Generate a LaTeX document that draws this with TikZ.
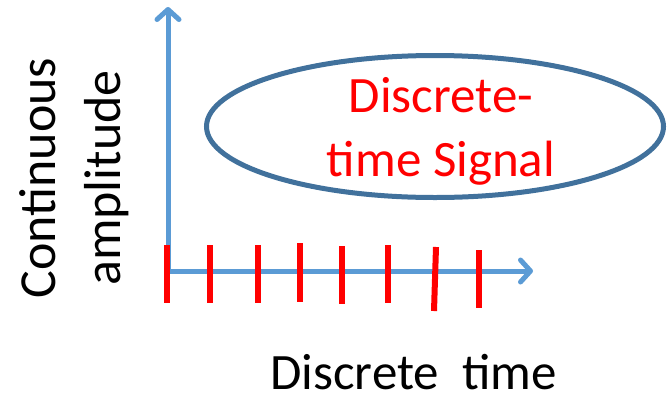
\documentclass[tikz,border=0pt]{standalone}
\usepackage{fontspec}
\setmainfont{Carlito}
\usetikzlibrary{arrows.meta,shapes.geometric}
\definecolor{axisblue}{HTML}{5B9BD5}
\definecolor{rimblue}{HTML}{41719C}
\definecolor{sigred}{HTML}{FF0000}
\tikzset{
  axis/.style={draw=axisblue, line width=5pt,
    -{Straight Barb[length=10pt,width=22pt,round]}},
  sample/.style={draw=sigred, line width=6pt},
  bigtext/.style={font=\fontsize{51}{60}\selectfont, inner sep=0pt, anchor=base},
  redtext/.style={bigtext, text=sigred, font=\fontsize{51}{64}\selectfont},
}
\begin{document}
\begin{tikzpicture}[x=1pt,y=-1pt]
  \useasboundingbox (0,0) rectangle (668,397);
  % axes
  \coordinate (o) at (168,271);
  \coordinate (ytip) at (168,7);
  \coordinate (xstart) at (166,271);
  \coordinate (xtip) at (533,271);
  \draw[axis] (o) -- (ytip);
  \draw[axis] (xstart) -- (xtip);
  % sample markers along the time axis
  \draw[sample] (167.3,245) -- (167.3,303);
  \draw[sample] (210,245) -- (210,303);
  \draw[sample] (258.3,245) -- (258.3,303);
  \draw[sample] (300,243) -- (300,302);
  \draw[sample] (342.3,246) -- (342.3,304);
  \draw[sample] (388.3,245) -- (388.3,303);
  \draw[sample] (436,247) -- (434,311);
  \draw[sample] (479,250) -- (479,308);
  % signal label
  \node[draw=rimblue, line width=5pt, ellipse, minimum width=457pt,
        minimum height=142pt, inner sep=0pt] (sig) at (435,126.5) {};
  \node[redtext] (sigA) at (441,112) {Discrete-};
  \node[redtext] (sigB) at (441,176) {time Signal};
  % axis labels
  \node[bigtext, rotate=90, font=\fontsize{52}{62}\selectfont] (amp1) at (55,178) {Continuous};
  \node[bigtext, rotate=90, font=\fontsize{52}{62}\selectfont] (amp2) at (120,178) {amplitude};
  \node[bigtext] (tlab) at (413.5,389) {Discrete~~time};
\end{tikzpicture}
\end{document}
